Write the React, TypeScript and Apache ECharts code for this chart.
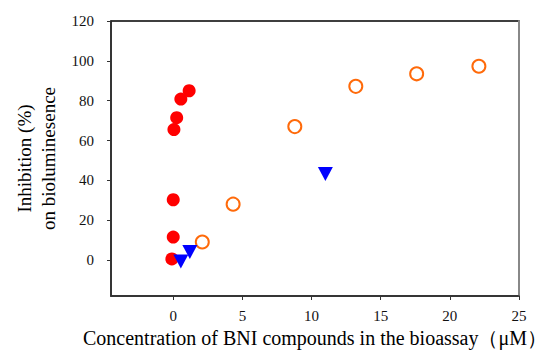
import React, { useEffect, useRef } from "react";
import * as echarts from "echarts";

const redX = [1.15, 0.55, 0.25, 0.05, 0.0, 0.0, -0.1];
const redY = [85, 80.8, 71.5, 65.5, 30.3, 11.6, 0.6];
const blueX = [0.55, 1.2, 11.0];
const blueY = [-0.7, 4.1, 43.2];
const orangeX = [2.1, 4.33, 8.79, 13.2, 17.6, 22.1];
const orangeY = [9.1, 28.1, 67.0, 87.2, 93.5, 97.3];
const xTicks = [0, 5, 10, 15, 20, 25];
const yTicks = [0, 20, 40, 60, 80, 100, 120];

const zip = (xs: number[], ys: number[]) => xs.map((x, i) => [x, ys[i]]);

export default function App() {
  const ref = useRef<HTMLDivElement>(null);
  useEffect(() => {
    if (!ref.current) return;
    const chart = echarts.init(ref.current, null, { renderer: "svg" });
    const font = "Liberation Serif";
    chart.setOption({
      animation: false,
      textStyle: { fontFamily: font },
      grid: {
        left: 111,
        right: 38,
        top: 21,
        bottom: 58,
        outerBoundsMode: "none",
        containLabel: false,
        show: true,
        borderColor: "#000",
        borderWidth: 1.5,
        backgroundColor: "transparent",
      },
      xAxis: {
        type: "value",
        position: "bottom",
        min: -4.5,
        max: 25,
        name: "Concentration of BNI compounds in the bioassay（μM）",
        nameLocation: "middle",
        nameGap: 32,
        nameTextStyle: { fontFamily: font, fontSize: 20, color: "#000" },
        axisLine: { show: true, onZero: false, lineStyle: { color: "#333", width: 1.5 } },
        axisTick: { show: true, length: 4, customValues: xTicks, lineStyle: { color: "#333" } },
        axisLabel: { customValues: xTicks, fontFamily: font, fontSize: 15, color: "#111", margin: 12 },
        splitLine: { show: false },
      },
      yAxis: [
        {
          type: "value",
          position: "left",
          min: -18,
          max: 120,
          name: "Inhibition (%)\non bioluminesence",
          nameLocation: "middle",
          nameGap: 50,
          nameRotate: 90,
          nameTextStyle: { fontFamily: font, fontSize: 19, color: "#000", lineHeight: 24 },
          axisLine: { show: true, onZero: false, lineStyle: { color: "#333", width: 1.5 } },
          axisTick: { show: true, length: 4, customValues: yTicks, lineStyle: { color: "#333" } },
          axisLabel: { customValues: yTicks, fontFamily: font, fontSize: 15, color: "#111", margin: 17 },
          splitLine: { show: false },
        },
        {
          type: "value",
          position: "right",
          min: -18,
          max: 120,
          axisLine: { show: true, onZero: false, lineStyle: { color: "#888", width: 2 } },
          axisTick: { show: false },
          axisLabel: { show: false },
          splitLine: { show: false },
        },
      ],
      series: [
        {
          type: "scatter",
          data: zip(redX, redY),
          symbol: "circle",
          symbolSize: 13,
          itemStyle: { color: "#FF0000", opacity: 1 },
        },
        {
          type: "scatter",
          data: zip(orangeX, orangeY),
          symbol: "emptyCircle",
          symbolSize: 13,
          itemStyle: { color: "#FF6A0A", borderColor: "#FF6A0A", borderWidth: 2, opacity: 1 },
        },
        {
          type: "scatter",
          data: zip(blueX, blueY),
          symbol: "triangle",
          symbolRotate: 180,
          symbolSize: [15, 14],
          itemStyle: { color: "#0000FF", opacity: 1 },
        },
      ],
    });
    return () => chart.dispose();
  }, []);
  return <div ref={ref} style={{ width: 557, height: 354, position: "absolute", left: 0, top: 0 }} />;
}
